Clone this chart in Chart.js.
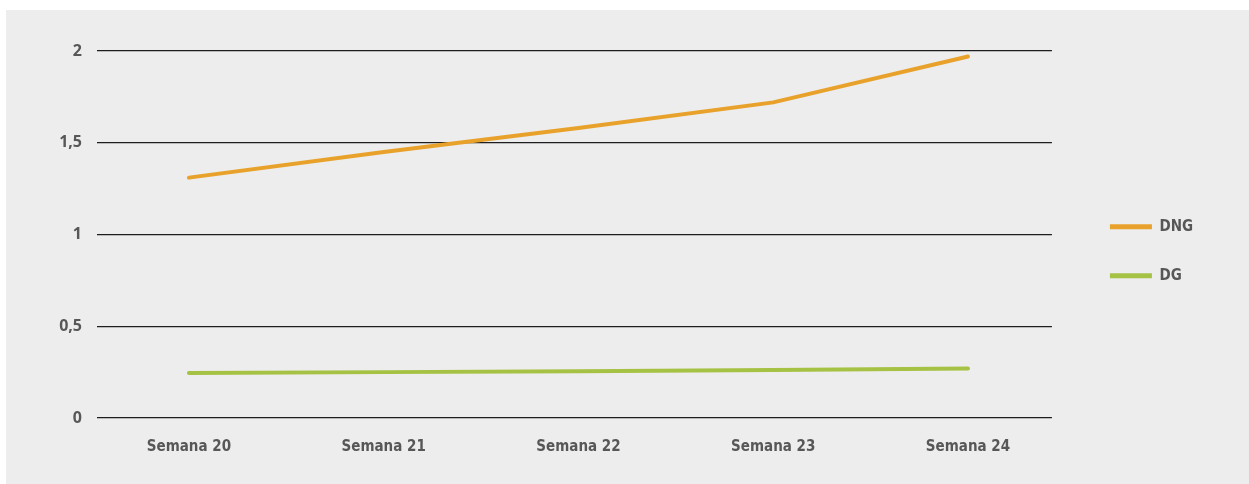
<!DOCTYPE html>
<html>
<head>
<meta charset="utf-8">
<script src="https://cdn.jsdelivr.net/npm/chart.js@4/dist/chart.umd.min.js"></script>
<style>
  html, body { margin: 0; padding: 0; background: #ffffff; }
  #wrap { position: absolute; left: 6px; top: 10px; width: 1243px; height: 474px; background: #ededed; }
</style>
</head>
<body>
<div id="wrap"><canvas id="chart" width="1243" height="474"></canvas></div>
<script>
// chart data
const weeks = ["Semana 20", "Semana 21", "Semana 22", "Semana 23", "Semana 24"];
const dng = [1.31, 1.45, 1.58, 1.72, 1.97];
const dg = [0.245, 0.25, 0.255, 0.262, 0.27];

const gray = "#575757";
const narrow = "'Liberation Sans Narrow', 'DejaVu Sans Condensed', sans-serif";

function toPoints(values) {
    return values.map(function (v, i) { return { x: i, y: v }; });
}

let ctx = document.getElementById("chart").getContext("2d");

let line_chart = new Chart(ctx, {
    type: 'line',
    data: {
        datasets: [
            {
                label: "DNG",
                data: toPoints(dng),
                borderColor: "#e8a22b",
                backgroundColor: "#e8a22b",
                borderWidth: 4,
                pointRadius: 0,
                tension: 0,
                borderCapStyle: 'round'
            },
            {
                label: "DG",
                data: toPoints(dg),
                borderColor: "#a6c244",
                backgroundColor: "#a6c244",
                borderWidth: 4,
                pointRadius: 0,
                tension: 0,
                borderCapStyle: 'round'
            }
        ]
    },
    options: {
        responsive: false,
        animation: false,
        layout: { padding: { top: 41, bottom: 21, left: 0, right: 46 } },
        plugins: {
            tooltip: { enabled: false },
            legend: {
                position: 'right',
                align: 'start',
                // empty title used only to push the items down to mid height
                title: { display: true, text: '', font: { size: 1 }, padding: { top: 133, bottom: 0 } },
                labels: {
                    boxWidth: 42,
                    boxHeight: 5,
                    padding: 34,
                    color: gray,
                    font: { family: narrow, size: 15, weight: 'bold' },
                    generateLabels: function (chart) {
                        // flat swatches, no outline
                        return Chart.defaults.plugins.legend.labels.generateLabels(chart).map(function (item) {
                            item.lineWidth = 0;
                            return item;
                        });
                    }
                }
            }
        },
        scales: {
            x: {
                type: 'linear',
                min: -0.472,
                max: 4.431,
                afterFit: function (scale) { scale.height = 45; },
                grid: { display: false },
                border: { display: false },
                ticks: {
                    stepSize: 1,
                    includeBounds: false,
                    padding: 12,
                    color: gray,
                    font: { family: narrow, size: 15, weight: 'bold' },
                    callback: function (value) { return weeks[value]; }
                }
            },
            y: {
                min: 0,
                max: 2,
                afterFit: function (scale) { scale.width = 91; },
                grid: { color: "#1e1e1e", lineWidth: 1.3, drawTicks: false },
                border: { display: false },
                ticks: {
                    stepSize: 0.5,
                    padding: 15,
                    color: gray,
                    font: { family: "'Open Sans', sans-serif", size: 16, weight: 'bold' },
                    callback: function (value) { return String(value).replace('.', ','); }
                }
            },
            // empty spacer between plot and legend
            gap: {
                type: 'linear',
                position: 'right',
                afterFit: function (scale) { scale.width = 24; },
                grid: { display: false },
                border: { display: false },
                ticks: { display: false }
            }
        }
    }
});
</script>
</body>
</html>
